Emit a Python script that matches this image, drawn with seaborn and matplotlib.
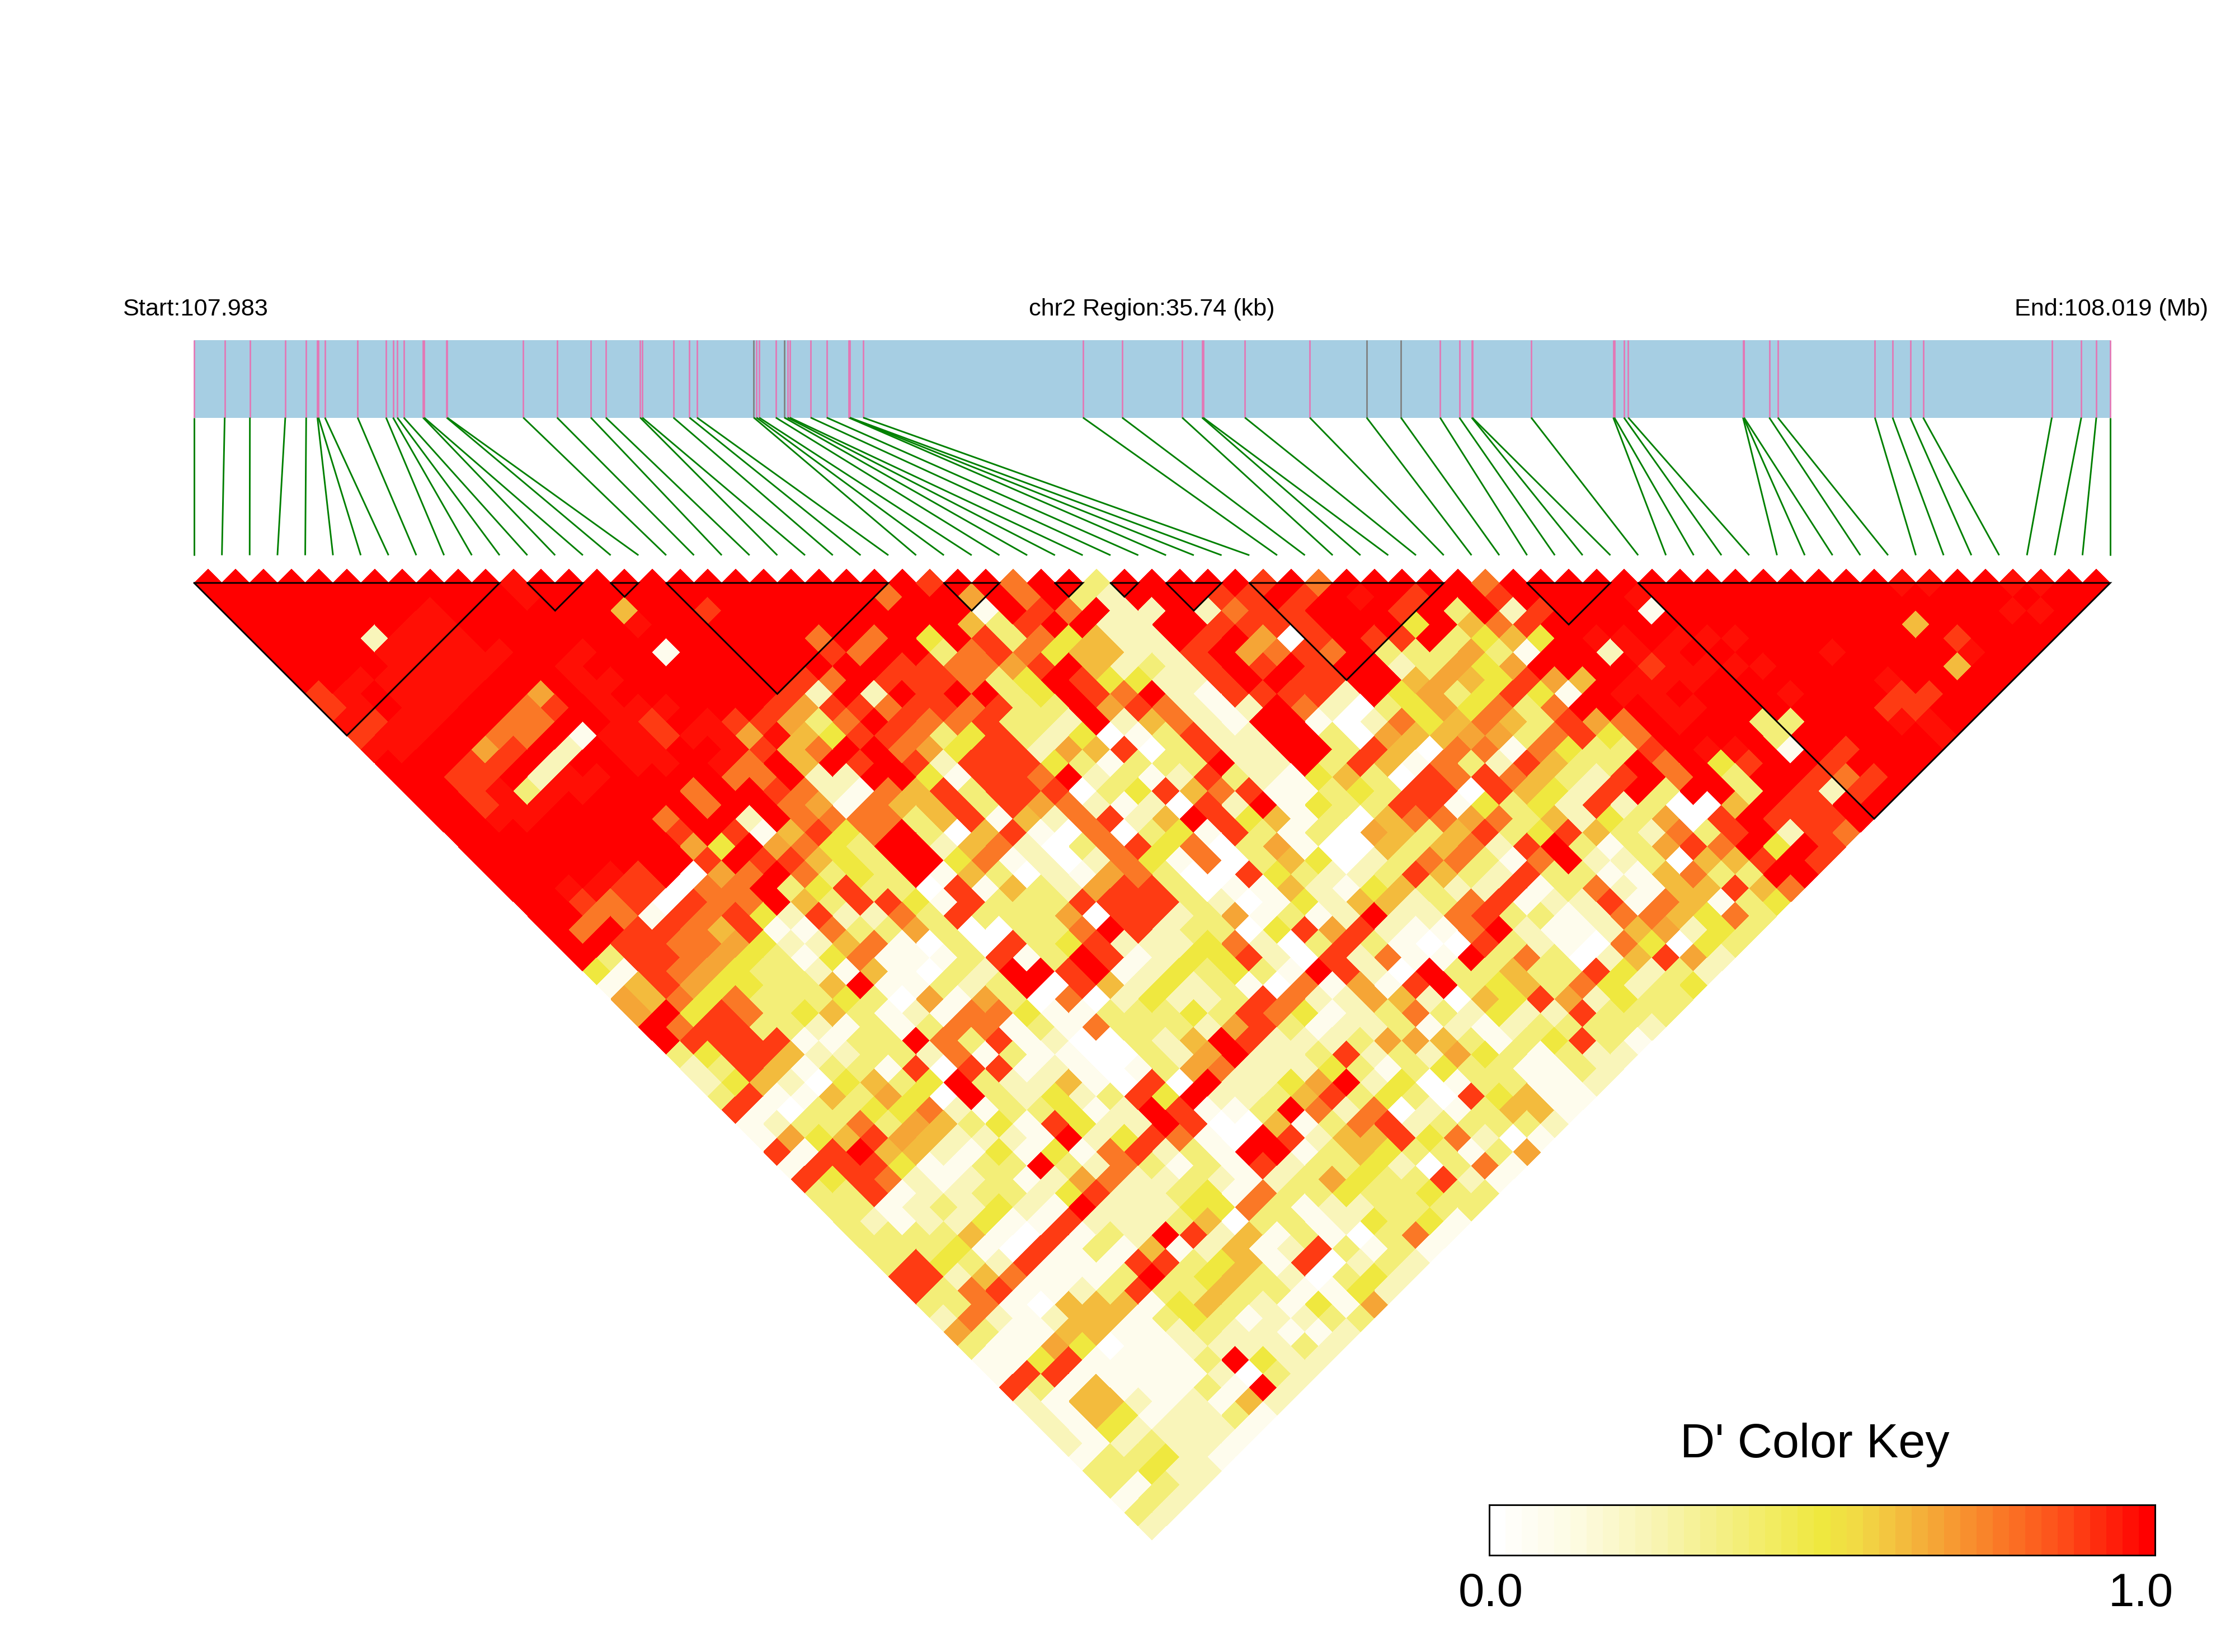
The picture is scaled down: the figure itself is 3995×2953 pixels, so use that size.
import numpy as np
import seaborn as sns
import matplotlib
matplotlib.use("Agg")
import matplotlib.pyplot as plt
from matplotlib.colors import LinearSegmentedColormap
from matplotlib.transforms import Affine2D

start_label = "Start:107.983"
region_label = "chr2 Region:35.74 (kb)"
end_label = "End:108.019 (Mb)"
region_kb = 35.74

# SNP positions along the region, kb from the start
snp_kb = [0, 0.57, 1.04, 1.70, 2.09, 2.30, 2.32, 2.44, 3.05, 3.58,
          3.71, 3.79, 3.91, 4.27, 4.29, 4.71, 4.72, 6.14, 6.77, 7.40,
          7.68, 8.32, 8.36, 8.94, 9.24, 9.38, 10.44, 10.49, 10.54, 10.85,
          11.01, 11.07, 11.11, 11.50, 11.80, 12.21, 12.22, 12.23, 12.48, 16.58,
          17.31, 18.43, 18.80, 18.82, 19.60, 20.81, 21.87, 22.51, 23.24, 23.60,
          23.83, 23.84, 24.94, 26.47, 26.49, 26.67, 26.75, 28.89, 28.90, 28.91,
          29.38, 29.54, 31.35, 31.68, 32.01, 32.25, 34.65, 35.20, 35.48, 35.74]
gray_snps = [26, 30, 46, 47]

# LD blocks as first and last SNP
blocks = [(0, 11), (12, 14), (15, 16), (17, 25), (27, 29), (31, 32), (33, 34),
          (35, 37), (38, 45), (48, 51), (52, 69)]

# one char per cell, D' level
level_values = {"0": 0.0, "1": 0.08, "2": 0.22, "3": 0.38, "4": 0.5, "5": 0.62,
                "6": 0.68, "7": 0.77, "8": 0.9, "a": 0.96, "9": 1.0}

# each string is one horizontal row of the triangle, top row first
dprime_rows = [
    "9999999999 9a99999999 9999998997 9939999989 7999997999 9999999999 9aa99aa99",
    "9999999999 9a99999999 9999799697 9329998898 9a98998999 9a99999999 99999999",
    "9999999a99 9999599899 9999999198 7922927889 9989392899 9199999999 9999aa9",
    "999999aa99 9999a99999 9999995389 9229988889 9949578999 9999999999 599999",
    "99992aaa99 9999999999 7979498374 5229896089 88934549aa 9aaa999999 98999",
    "9999aaaaa9 9a99199999 8799378745 5228967879 333631992a a99999a999 9a99",
    "9999aaaa99 a999999999 9988776895 2328989899 2364699998 aaaa999999 599",
    "99aaaaa999 aa99999987 9888734984 4228998899 56548659aa a999999a99 99",
    "8a9aaa9969 a999999829 2989934987 9218888294 6348419aa9 999a999889 9",
    "8a9aa99789 aaa9998688 7887833968 7212972034 64737999aa 9999998899",
    "a8aa997799 a89a886379 8778332925 7219910274 575386 79a9 933999aa9",
    "8aa997791a a8aa6a5488 7348324013 8229930655 6637847999 9399999a",
    "aa9968929a a99a857997 6488265803 8229938507 71743389aa 9198999",
    "999889299a a9a7959898 2888431333 9229385173 2853397948 998999",
    "998892aa99 9977922994 1887923128 3214530878 7532897939 98789",
    "998a3aa999 7998721758 3888034857 8113438808 5428939939 8289",
    "998aa99999 7997617558 3867212082 9143388143 4282300598 899",
    "99aa999979 9297777358 1527825984 5130577673 5243608988 89",
    "9999999989 8158479305 8107034183 1306535834 85327389287",
    "9999999964 9674399257 2037847036 1005357289 3136879498",
    "9999999989 8854399471 2027417035 4023773179 223055898",
    "9999a89067 9734391530 2167300843 2238532833 11573399",
    "99aa880779 3483308153 2688301152 1453228137 2155857",
    "9987808779 5388418333 8888320142 5523781228 175134",
    "9977187842 8227383336 0882361312 9227833127 75473",
    "9798875811 7336300337 9823304868 2117921125 6243",
    "9988776422 5710308348 2224720383 1008321074 043",
    "9388764314 7111381398 1244820827 1193730258 62",
    "4187643321 5103299891 2434319820 9335338423 2",
    "1586443359 1132390852 4231071618 9345374234",
    "6574733343 0616307024 2238722652 054862433",
    "6948734531 2177411333 4387412373 24228333",
    "9788332131 3771317333 2683122312 1233332",
    "9888811339 7381200325 9822236653 134831",
    "3488522332 7131100326 9223823264 31322",
    "2385133180 8812101367 2224313433 1132",
    "2452045349 3225108092 2469240133 112",
    "3811536409 3242384922 3583430845 11",
    "8103344721 3341298113 9727021355 1",
    "1233736534 1842298005 1378233332",
    "1645865222 1924871098 255847201",
    "8189552141 4178231991 35433136",
    "1888411339 3273131823 3420371",
    "8487212312 6722321236 433821",
    "3381223324 8223417334 33433",
    "3312324219 2224473122 3333",
    "3212241182 2235033124 341",
    "3333510813 2982513103 71",
    "3334108131 5125128313 1",
    "3843281118 8345180232",
    "8825711139 345320342",
    "8378112383 35331142",
    "3371055514 5321416",
    "2721255134 312233",
    "6311551123 22112",
    "3116401122 2232",
    "1148111139 422",
    "1881111120 32",
    "83151113192",
    "2155212152",
    "215412231",
    "21422221",
    "2123221",
    "133421",
    "33422",
    "3132",
    "132",
    "32",
    "2",
]

W, H = 3995, 2953
x0, y0 = 347, 1042
x1 = 3772
n_snp = len(snp_kb)
pitch = (x1 - x0) / (n_snp - 1)
half_h = 24.8

bad = [(r, len(s.replace(" ", "")), n_snp - 1 - r) for r, s in enumerate(dprime_rows)
       if len(s.replace(" ", "")) != n_snp - 1 - r]
if bad:
    raise ValueError(str(bad))

# rows are distances between SNPs, so fill the upper part of a square matrix
ld = np.full((n_snp, n_snp), np.nan)
for r, row in enumerate(dprime_rows):
    for k, ch in enumerate(row.replace(" ", "")):
        ld[k, k + r + 1] = level_values[ch]

key_cmap = LinearSegmentedColormap.from_list(
    "ld_key",
    [(0.0, "#FFFFFF"), (0.12, "#FDFBE2"), (0.25, "#F8F4B0"), (0.5, "#EFE83F"),
     (0.56, "#F2D845"), (0.65, "#F4B03A"), (0.75, "#F9842A"), (0.875, "#FE4A18"),
     (1.0, "#FF0000")],
    N=41,
)

sns.set_style("white")
plt.rcParams["font.family"] = ["Liberation Sans", "DejaVu Sans"]
plt.rcParams["text.color"] = "black"

fig = plt.figure(figsize=(W / 300, H / 300), dpi=300)
ax = fig.add_axes([0, 0, 1, 1])
sns.heatmap(ld, ax=ax, cmap=key_cmap, vmin=0, vmax=1, cbar=False,
            xticklabels=False, yticklabels=False)

# turn the heatmap into the usual LD triangle, cell (i, j) sits between SNP i and j
to_triangle = Affine2D.from_values(pitch / 2, half_h, pitch / 2, -half_h,
                                   x0 - pitch / 2, y0 - half_h)
ax.collections[0].set_transform(to_triangle + ax.transData)
ax.set_xlim(0, W)
ax.set_ylim(H, 0)
ax.axis("off")

# gene track
ax.fill_between([x0, x1], 607.5, 746.5, color="#A6CEE3", lw=0)
for i, kb in enumerate(snp_kb):
    x_top = x0 + kb / region_kb * (x1 - x0)
    col = "#7F7F7F" if i in gray_snps else "#E377B5"
    ax.plot([x_top, x_top], [607.5, 746.5], color=col, lw=0.65, solid_capstyle="butt")
    ax.plot([x_top, x0 + i * pitch], [746.5, 992.5], color="#008000", lw=0.7,
            solid_capstyle="butt")

# block outlines
for a, b in blocks:
    xa, xb = x0 + a * pitch, x0 + b * pitch
    ax.plot([xa, xb, (xa + xb) / 2, xa], [y0, y0, y0 + (b - a) * half_h, y0],
            color="black", lw=0.7, solid_joinstyle="miter")

ax.text(219, 564, start_label, fontsize=10.4, ha="left", va="baseline")
ax.text(2059, 564, region_label, fontsize=10.4, ha="center", va="baseline")
ax.text(3947, 564, end_label, fontsize=10.4, ha="right", va="baseline")

# colour key
ax.text(3244, 2605, "D' Color Key", fontsize=20.7, ha="center", va="baseline")
ax.text(2665, 2871, "0.0", fontsize=20, ha="center", va="baseline")
ax.text(3827, 2871, "1.0", fontsize=20, ha="center", va="baseline")
key_ax = fig.add_axes([2662 / W, 1 - 2780 / H, 1190 / W, 90 / H])
sns.heatmap(np.linspace(0, 1, 41).reshape(1, -1), ax=key_ax, cmap=key_cmap, vmin=0, vmax=1,
            cbar=False, xticklabels=False, yticklabels=False)
for s in key_ax.spines.values():
    s.set_visible(True)
    s.set_color("black")
    s.set_linewidth(0.7)

fig.savefig("out.png", dpi=300)
